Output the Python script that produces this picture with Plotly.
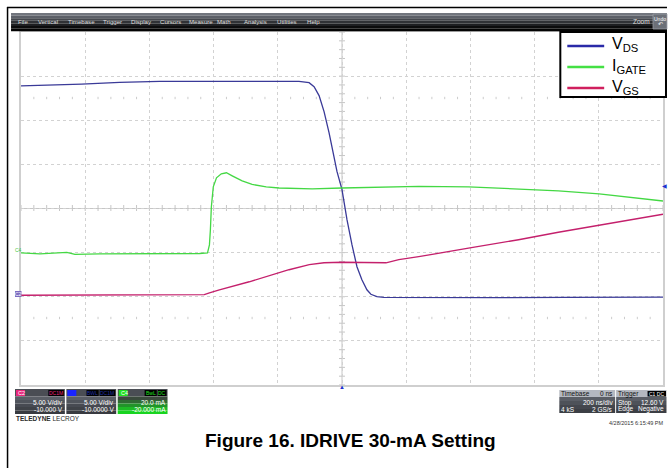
import plotly.graph_objects as go

# ---------------- data ----------------
# time in ns (200 ns/div, trigger at 0)
vds_t = [-1000, -842, -811, -693, -568, -300, -134, -102.5, -87, -71.4, -55.9, -40.4, -31,
         -15.5, 0, 15.5, 31, 46.6, 62, 77.6, 90, 108.7, 130.4, 300, 488, 700, 922, 1000]
vds_v = [23.9, 24.0, 24.1, 24.3, 24.4, 24.4, 24.4, 24.26, 23.81, 22.79, 20.98, 18.59, 16.89,
         14.17, 12.13, 8.73, 5.90, 3.40, 1.93, 0.79, 0.28, 0.02, -0.06, -0.1, -0.1, -0.08, -0.05, -0.05]

igate_t = [-1000, -941, -857, -832, -755, -600, -444, -419, -413, -410, -407, -401, -391, -376,
           -360, -342, -311, -280, -236, -196, -93, 0, 115, 239, 394, 550, 674, 801, 860, 922, 1000]
igate_ma = [-0.1, -0.6, 0.1, -0.8, -0.6, -0.6, -0.4, -0.1, 3.5, 10.3, 20.7, 29.8, 33.9, 35.7,
            36.2, 34.8, 32.5, 30.9, 29.8, 29.3, 28.9, 29.3, 29.8, 30.0, 29.8, 28.9, 28.0, 26.6,
            25.7, 24.8, 23.4]

vgs_t = [-1000, -755, -444, -429, -413, -382, -289, -165, -102, -56, 0, 75, 137, 177, 239,
         394, 550, 674, 801, 1000]
vgs_v = [0.17, 0.17, 0.19, 0.23, 0.45, 0.79, 1.70, 3.06, 3.63, 3.85, 3.91, 3.85, 3.85, 4.2,
         4.54, 5.50, 6.46, 7.31, 8.11, 9.35]

series_names = ["V<sub>DS</sub>", "I<sub>GATE</sub>", "V<sub>GS</sub>"]
series_colors = ["#3a3a98", "#44d844", "#c4206c"]
legend_colors = ["#2a2aa8", "#44e044", "#d0205e"]

# scope settings
time_range = [-1000, 1000]      # ns
volt_range = [-10, 30]          # 5 V/div, offset -10 V
curr_range = [-60, 100]         # 20 mA/div, offset -20 mA
trigger_level = 12.6            # V

menu_items = ["File", "Vertical", "Timebase", "Trigger", "Display", "Cursors",
              "Measure", "Math", "Analysis", "Utilities", "Help"]
menu_x = [17, 37, 67, 102, 130, 159, 189, 217, 244, 277, 307]

# ---------------- layout helpers ----------------
W, H = 669, 468
L, R, T, B = 21, 665, 32, 385


def PX(X):
    return (X - L) / (R - L)


def PY(Y):
    return (B - Y) / (B - T)


shapes = []
annotations = []


def rect(x0, y0, x1, y1, fill, line=None, lw=0, layer="above"):
    shapes.append(dict(type="rect", xref="paper", yref="paper",
                       x0=PX(x0), x1=PX(x1), y0=PY(y1), y1=PY(y0),
                       fillcolor=fill, line=dict(width=lw, color=line or fill), layer=layer))


def seg(x0, y0, x1, y1, color, w=1, layer="above", dash="solid"):
    shapes.append(dict(type="line", xref="paper", yref="paper",
                       x0=PX(x0), x1=PX(x1), y0=PY(y0), y1=PY(y1),
                       line=dict(color=color, width=w, dash=dash), layer=layer))


def txt(X, Y, s, size=7, color="#ffffff", anchor="left", family="Arial, Liberation Sans"):
    annotations.append(dict(xref="paper", yref="paper", x=PX(X), y=PY(Y), text=s,
                            showarrow=False, xanchor=anchor, yanchor="middle",
                            borderpad=0, font=dict(size=size, color=color, family=family)))


# ---------------- figure ----------------
fig = go.Figure()
fig.add_trace(go.Scatter(x=vds_t, y=vds_v, mode="lines", name=series_names[0],
                         line=dict(color=series_colors[0], width=1.3), yaxis="y"))
fig.add_trace(go.Scatter(x=igate_t, y=igate_ma, mode="lines", name=series_names[1],
                         line=dict(color=series_colors[1], width=1.3), yaxis="y2"))
fig.add_trace(go.Scatter(x=vgs_t, y=vgs_v, mode="lines", name=series_names[2],
                         line=dict(color=series_colors[2], width=1.3), yaxis="y"))

# graticule center lines with minor ticks
gcol = "#c6c6c6"
shapes.append(dict(type="line", xref="x", yref="paper", x0=0, x1=0, y0=0, y1=1,
                   line=dict(color=gcol, width=1), layer="below"))
shapes.append(dict(type="line", xref="paper", yref="y", x0=0, x1=1, y0=10, y1=10,
                   line=dict(color=gcol, width=1), layer="below"))
for k in range(51):
    tx = time_range[0] + k * 40
    shapes.append(dict(type="line", xref="x", yref="paper", x0=tx, x1=tx,
                       y0=PY(211), y1=PY(205), line=dict(color=gcol, width=1), layer="below"))
    if k % 5:
        for yy in (98, 318):
            shapes.append(dict(type="line", xref="x", yref="paper", x0=tx, x1=tx,
                               y0=PY(yy + 1.2), y1=PY(yy - 1.2),
                               line=dict(color="#cccccc", width=1), layer="below"))
for k in range(41):
    vy = volt_range[0] + k
    shapes.append(dict(type="line", xref="paper", yref="y", x0=PX(340), x1=PX(346),
                       y0=vy, y1=vy, line=dict(color=gcol, width=1), layer="below"))

# outer page frame
seg(7, 7.5, 669, 7.5, "#000000", 1.5)
seg(7.5, 7, 7.5, 468, "#000000", 1.5)

# menu bar (stacked bands imitate gradient)
bands = ["#72767e", "#5c6068", "#45484e", "#303236", "#1d1e21", "#0c0c0d", "#030303"]
by = 13
for c in bands:
    rect(11, by, 669, by + 2.6, c)
    by += 2.6
for name, mx in zip(menu_items, menu_x):
    txt(mx, 21.5, name, size=6.1, color="#dcdcdc")
txt(653, 22, "Zoom", size=6.5, color="#dcdcdc", anchor="right")
rect(655, 14, 669, 29, "#6c7078", "#9a9ea6", 0.8)
txt(662, 18.5, "Undo", size=5, color="#ffffff", anchor="center")
txt(662, 24.5, "↶", size=6, color="#ffffff", anchor="center")

# manual legend box
rect(562, 32, 668, 97, "#ffffff", "#000000", 2)
for i, (nm, col) in enumerate(zip(series_names, legend_colors)):
    ly = 46 + 21 * i
    seg(569, ly, 606, ly, col, 2.6)
    txt(613, ly - 1, nm, size=16, color="#000000", anchor="left")

# channel markers on the left edge and trigger markers
txt(18, 250, "C4", size=5, color="#44c844", anchor="center")
rect(15, 291, 21.5, 297, "#7c6cc0")
txt(18.3, 294, "C2", size=5, color="#ffffff", anchor="center")
annotations.append(dict(xref="paper", yref="y", x=PX(666.5), y=trigger_level, text="◀",
                        showarrow=False, xanchor="center", yanchor="middle",
                        font=dict(size=6, color="#2030d0")))
annotations.append(dict(xref="x", yref="paper", x=0, y=PY(386.5), text="▲",
                        showarrow=False, xanchor="center", yanchor="middle",
                        font=dict(size=6, color="#2030d0")))


# ---- bottom-left channel boxes ----
def chan_box(x0, tagcol, tagtxt, tags, tagtxtcol, line1, line2, green=False):
    x1 = x0 + 50
    if green:
        body = ["#3a4a3c", "#2f6a33", "#22932a", "#1dbb25", "#18d420"]
    else:
        body = ["#5a5e66", "#50545c", "#474a52", "#3f4248", "#383a40"]
    rect(x0, 389, x1, 396.5, "#4a4d54")
    yy = 396.5
    for c in body:
        rect(x0, yy, x1, yy + 3.5, c)
        yy += 3.5
    rect(x0 + 1, 390, x0 + 10, 396, tagcol)
    if tagtxt:
        txt(x0 + 2, 393.2, tagtxt, size=5.5, color="#ffffff")
    tx = x1 - 1
    for t in reversed(tags):
        w = 3.4 * len(t) + 2
        rect(tx - w, 390, tx, 396, "#000000")
        txt(tx - w / 2, 393.2, t, size=5, color=tagtxtcol, anchor="center")
        tx -= w + 1
    txt(x1 - 1, 402.5, line1, size=6.5, anchor="right")
    txt(x1 - 1, 409, line2, size=6.5, anchor="right")


chan_box(15, "#e8287c", "C2", ["DC1M"], "#e8287c", "5.00 V/div", "-10.000 V")
chan_box(66.5, "#1a24ff", "", ["BWL", "DC1M"], "#2030a0", "5.00 V/div", "-10.0000 V")
chan_box(118, "#22e022", "C4", ["BwL", "DC"], "#22e022", "20.0 mA", "-20.000 mA", green=True)
txt(15, 418.5, "<b>TELEDYNE</b> LECROY", size=6.5, color="#2a2a2a")


# ---- bottom-right timebase / trigger boxes ----
def info_box(x0, x1, head_l, head_r, rows, head_tag=None):
    rect(x0, 390, x1, 397, "#b4b8c0")
    yy = 397
    for c in ["#5a5e66", "#4e5259", "#44474e", "#3c3f45"]:
        rect(x0, yy, x1, yy + 4, c)
        yy += 4
    txt(x0 + 1, 393.5, head_l, size=6.5, color="#111111")
    if head_tag:
        rect(x1 - 19, 391, x1 - 0.5, 396.5, "#000000")
        txt(x1 - 9.75, 393.7, head_tag, size=5, color="#ffffff", anchor="center")
    if head_r:
        txt(x1 - 1, 393.5, head_r, size=6.5, color="#111111", anchor="right")
    for (left, right), ry in zip(rows, (402.5, 409)):
        if left:
            txt(x0 + 1, ry, left, size=6.5)
        if right:
            txt(x1 - 1, ry, right, size=6.5, anchor="right")


info_box(561, 617, "Timebase", "0 ns", [("", "200 ns/div"), ("4 kS", "2 GS/s")])
info_box(618, 668.5, "Trigger", None, [("Stop", "12.60 V"), ("Edge", "Negative")], head_tag="C1 DC")
txt(667, 423, "4/28/2015 6:15:49 PM", size=5.5, color="#333333", anchor="right")

# caption
txt(352, 441, "<b>Figure 16. IDRIVE 30-mA Setting</b>", size=19, color="#000000",
    anchor="center", family="Arial, Liberation Sans")

fig.update_layout(
    width=W, height=H, autosize=False,
    margin=dict(l=L, r=W - R, t=T, b=H - B, pad=0),
    paper_bgcolor="#ffffff", plot_bgcolor="#ffffff",
    showlegend=False,
    xaxis=dict(range=time_range, dtick=200, tick0=-1000, showgrid=True, gridcolor="#d2d2d2",
               griddash="dot", gridwidth=1, zeroline=False, showticklabels=False, ticks="",
               showline=True, mirror=True, linecolor="#cfcfcf", linewidth=1.5, fixedrange=True),
    yaxis=dict(range=volt_range, dtick=5, tick0=-10, showgrid=True, gridcolor="#d2d2d2",
               griddash="dot", gridwidth=1, zeroline=False, showticklabels=False, ticks="",
               showline=True, mirror=True, linecolor="#cfcfcf", linewidth=1.5, fixedrange=True),
    yaxis2=dict(range=curr_range, overlaying="y", visible=False, fixedrange=True),
    shapes=shapes, annotations=annotations,
)

fig.write_html("out.html", config={"displayModeBar": False},
               post_script="document.body.style.margin='0px';")
